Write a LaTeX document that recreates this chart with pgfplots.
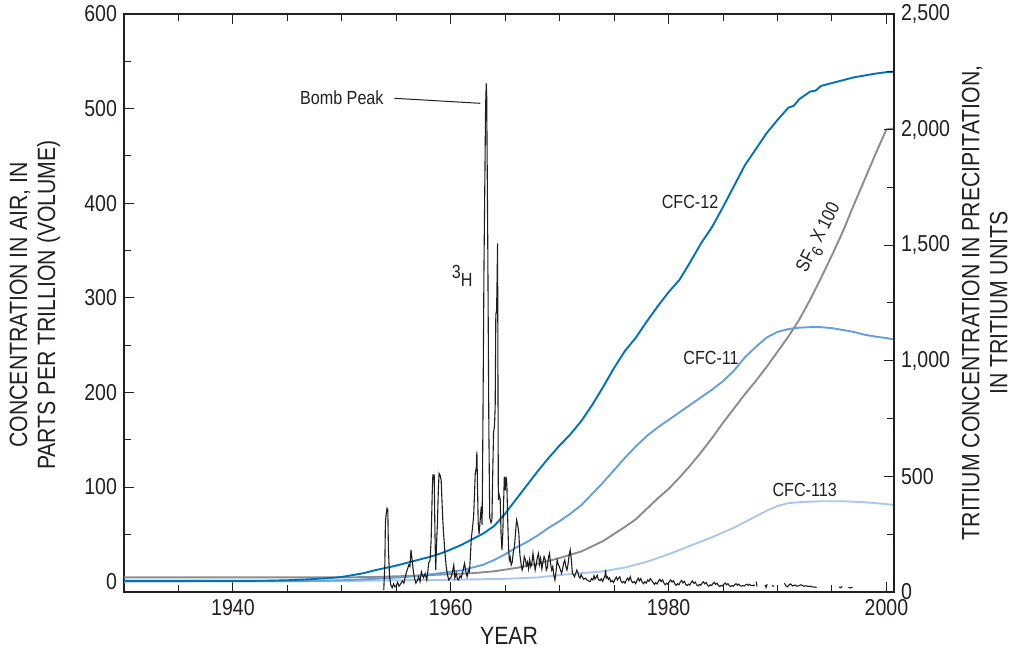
\documentclass[border=0pt]{standalone}
\usepackage{fontspec}
\setmainfont[FakeStretch=0.85]{Liberation Sans}
\usepackage{pgfplots}
\pgfplotsset{compat=1.18}

\definecolor{cfctwelve}{RGB}{0,114,188}
\definecolor{cfceleven}{RGB}{100,160,220}
\definecolor{cfconethree}{RGB}{170,200,238}
\definecolor{sfsix}{RGB}{140,140,140}
\definecolor{tritium}{RGB}{30,30,30}
\definecolor{ink}{RGB}{35,31,32}

\tikzset{annot/.style={font=\fontsize{9.5}{11}\selectfont, text=ink, inner sep=1pt}}

\pgfplotsset{
  common/.style={
    width=385pt, height=289pt, scale only axis,
    xmin=1930, xmax=2000.7,
    tick align=inside,
    major tick length=5pt, minor tick length=3.5pt,
    every tick/.style={line width=0.5pt, ink},
    every minor tick/.style={line width=0.5pt, ink},
    axis line style={line width=0.7pt, ink},
    /pgf/number format/assume math mode=true,
    tick label style={font=\fontsize{11.5}{13}\selectfont, text=ink},
    label style={font=\fontsize{12.5}{14}\selectfont, text=ink, align=center},
  },
}

\begin{document}
\begin{tikzpicture}
\path[use as bounding box] (-62pt,-29.5pt) rectangle (445.5pt,296pt);

% Atmospheric CFC and SF6 concentrations (left scale, pptv)
\begin{axis}[common, name=ax,
  ymin=-10.9, ymax=600,
  xtick={1940,1960,1980,2000},
  minor xtick={1935,1945,1950,1955,1965,1970,1975,1985,1990,1995},
  x tick label style={/pgf/number format/1000 sep={}},
  ytick={0,100,...,600},
  minor ytick={50,150,...,550},
  ytick pos=left,
  xlabel={YEAR},
  xlabel style={at={(axis description cs:0.5,-0.076)}, anchor=center},
  ylabel={CONCENTRATION IN AIR, IN\\PARTS PER TRILLION (VOLUME)},
  ylabel style={at={(axis description cs:-0.1156,0.4965)}, anchor=center},
  every axis plot/.append style={line width=0.95pt},
]
% SF6 x 100
\addplot[sfsix] coordinates {
(1930,4.5) (1945,4.5) (1950,4.5) (1953,5) (1956,6) (1959,7.5) (1962,9) (1964,11)
(1966,14.5) (1968,19) (1970,25) (1972,32) (1974,43) (1976,58) (1977,66) (1978,77)
(1979,88) (1980,98) (1981,110) (1982,123) (1983,137) (1984,152) (1985,168)
(1986,183) (1987,198) (1988,212) (1989,227) (1990,243) (1991,259) (1992,277)
(1993,298) (1994,321) (1995,345) (1996,370) (1997,398) (1998,425) (1999,452)
(2000,478) (2000.7,479)
};
% CFC-113
\addplot[cfconethree] coordinates {
(1930,0) (1950,0.5) (1955,1.5) (1960,2) (1965,3) (1968,4.5) (1970,7) (1972,9)
(1974,11) (1976,15) (1978,21) (1980,29) (1982,38) (1984,47) (1986,57) (1987,63)
(1988,69) (1989,75) (1990,80) (1991,83) (1992,84) (1993,84.5) (1994,85) (1995,85)
(1996,85) (1997,84.5) (1998,84) (1999,83) (2000,82) (2000.7,81)
};
% CFC-11
\addplot[cfceleven] coordinates {
(1930,0.8) (1945,0.8) (1948,1) (1950,1.5) (1953,3) (1956,5) (1959,9) (1961,12)
(1963,18) (1964,23) (1965,29) (1966,36) (1967,42) (1968,49) (1969,57) (1970,64)
(1971,72) (1972,81) (1973,93) (1974,105) (1975,118) (1976,131) (1977,143)
(1978,154) (1979,163) (1980,171) (1981,179) (1982,187) (1983,195) (1984,203)
(1985,212) (1986,223) (1987,237) (1988,248) (1989,258) (1990,264) (1991,267)
(1992,268.5) (1993,269) (1994,269) (1995,268) (1996,266) (1997,264) (1998,261)
(1999,259) (2000,257.5) (2000.7,256)
};
% CFC-12
\addplot[cfctwelve] coordinates {
(1930,0.8) (1940,0.8) (1943,1) (1945,1.5) (1947,2.5) (1949,4) (1950,5) (1951,7)
(1952,9) (1953,12) (1954,14.5) (1955,17) (1956,20) (1957,23) (1958,26)
(1959,29.5) (1960,34) (1961,39) (1962,45) (1963,51) (1964,59) (1965,72)
(1966,87) (1967,102) (1968,117) (1969,131) (1970,144) (1971,156) (1972,170)
(1973,187) (1974,206) (1975,226) (1976,244) (1977,258) (1978,275) (1979,291)
(1980,306) (1981,319) (1982,338) (1983,358) (1984,375) (1985,396) (1986,418)
(1987,440) (1988,457) (1989,474) (1990,488) (1991,501) (1991.5,503) (1992,510)
(1993,518) (1993.5,519) (1994,524) (1995,527) (1996,530) (1997,533) (1998,535)
(1999,537) (2000,538.5) (2000.7,539)
};
\node[annot] at (axis cs:1950.0,511.7) {Bomb Peak};
\draw[line width=0.5pt, ink] (axis cs:1954.82,510.9) -- (axis cs:1962.71,505.6);
\node[annot] at (axis cs:1961.06,323) {\raisebox{0.45em}{3}H};
\node[annot] at (axis cs:1981.97,401.3) {CFC-12};
\node[annot] at (axis cs:1983.9,236.4) {CFC-11};
\node[annot] at (axis cs:1992.5,97.4) {CFC-113};
\node[annot, rotate=63] at (axis cs:1993.9,363.2)
  {SF\raisebox{-0.3em}{\fontsize{8}{9}\selectfont 6} X 100};
\end{axis}

% Tritium in precipitation (right scale, TU)
\begin{axis}[common,
  ymin=0, ymax=2500,
  hide x axis,
  axis y line*=right,
  ytick={0,500,...,2500},
  minor ytick={250,750,...,2250},
  ylabel={TRITIUM CONCENTRATION IN PRECIPITATION,\\IN TRITIUM UNITS},
  ylabel style={at={(axis description cs:1.118,0.5)}, anchor=center},
]
\addplot[tritium, line width=0.55pt, unbounded coords=jump] coordinates {
(1953.85,8) (1953.95,120) (1954.00,300) (1954.08,340) (1954.15,362) (1954.22,355)
(1954.28,182) (1954.38,66) (1954.50,30) (1954.62,18) (1954.75,35) (1954.88,22)
(1955.00,28) (1955.12,42) (1955.25,25) (1955.40,35) (1955.55,48) (1955.70,38)
(1955.85,72) (1956.00,95) (1956.15,117) (1956.25,110) (1956.35,182) (1956.45,140)
(1956.59,81) (1956.70,55) (1956.80,38) (1956.95,52) (1957.05,66) (1957.18,45)
(1957.30,88) (1957.42,70) (1957.50,62) (1957.65,80) (1957.80,52) (1957.90,90)
(1957.97,124) (1958.10,138) (1958.20,225) (1958.30,430) (1958.36,506) (1958.48,506)
(1958.55,250) (1958.62,95) (1958.70,210) (1958.78,300) (1958.86,440) (1958.93,513)
(1959.02,505) (1959.12,484) (1959.25,330) (1959.34,254) (1959.45,182) (1959.58,110)
(1959.72,70) (1959.82,52) (1959.95,60) (1960.05,66) (1960.15,85) (1960.28,117)
(1960.38,60) (1960.50,81) (1960.62,55) (1960.72,52) (1960.85,70) (1960.96,62)
(1961.10,85) (1961.20,110) (1961.27,124) (1961.38,90) (1961.50,66) (1961.62,95)
(1961.72,88) (1961.80,150) (1961.88,225) (1962.00,280) (1962.10,326) (1962.18,420)
(1962.25,513) (1962.35,540) (1962.40,607) (1962.46,450) (1962.52,300) (1962.60,250)
(1962.70,310) (1962.80,369) (1962.88,290) (1962.95,700) (1963.05,1400) (1963.20,2100)
(1963.26,2200) (1963.30,2150) (1963.40,1500) (1963.50,700) (1963.58,320) (1963.70,300)
(1963.78,311) (1963.85,500) (1963.93,688) (1964.02,720) (1964.08,801) (1964.14,1206)
(1964.20,1206) (1964.24,1300) (1964.30,1508) (1964.33,1000) (1964.37,398) (1964.45,420)
(1964.54,400) (1964.62,250) (1964.70,182) (1964.78,255) (1964.85,380) (1964.92,499)
(1965.00,440) (1965.08,499) (1965.15,470) (1965.22,330) (1965.30,200) (1965.38,138)
(1965.46,150) (1965.55,117) (1965.65,130) (1965.75,175) (1965.85,196) (1965.95,260)
(1966.05,311) (1966.15,290) (1966.25,255) (1966.35,160) (1966.45,125) (1966.55,95)
(1966.65,110) (1966.75,153) (1966.85,140) (1966.95,115) (1967.05,130) (1967.15,100)
(1967.25,140) (1967.35,110) (1967.45,125) (1967.55,167) (1967.65,130) (1967.75,95)
(1967.85,120) (1967.95,150) (1968.06,167) (1968.15,120) (1968.25,145) (1968.37,100)
(1968.47,130) (1968.57,153) (1968.67,140) (1968.77,95) (1968.87,105) (1968.97,150)
(1969.07,167) (1969.17,120) (1969.27,95) (1969.37,110) (1969.47,70) (1969.57,52)
(1969.67,90) (1969.77,138) (1969.87,120) (1969.97,110) (1970.07,95) (1970.17,81)
(1970.27,100) (1970.37,125) (1970.47,138) (1970.57,110) (1970.67,95) (1970.77,120)
(1970.87,160) (1970.97,182) (1971.07,140) (1971.17,81) (1971.27,75) (1971.37,66)
(1971.47,80) (1971.57,95) (1971.67,85) (1971.77,66) (1971.87,60) (1971.97,75)
(1972.07,66) (1972.20,55) (1972.35,60) (1972.50,52) (1972.65,48) (1972.80,45)
(1972.92,58) (1973.05,52) (1973.15,70) (1973.25,56) (1973.35,64) (1973.45,72)
(1973.55,54) (1973.70,49) (1973.82,57) (1973.95,46) (1974.08,62) (1974.16,70)
(1974.22,96) (1974.28,60) (1974.38,66) (1974.48,54) (1974.58,61) (1974.70,44)
(1974.82,50) (1974.95,41) (1975.08,55) (1975.20,64) (1975.30,52) (1975.42,60)
(1975.52,66) (1975.62,48) (1975.75,40) (1975.88,46) (1976.00,38) (1976.12,52)
(1976.25,60) (1976.35,50) (1976.48,66) (1976.60,47) (1976.72,40) (1976.85,45)
(1976.98,36) (1977.10,50) (1977.22,60) (1977.32,48) (1977.45,58) (1977.58,42)
(1977.70,36) (1977.82,44) (1977.95,38) (1978.08,52) (1978.20,46) (1978.32,58)
(1978.45,50) (1978.58,41) (1978.70,33) (1978.82,40) (1978.95,35) (1979.08,48)
(1979.20,55) (1979.32,45) (1979.45,52) (1979.58,38) (1979.70,31) (1979.82,38)
(1979.95,33) (1980.08,46) (1980.20,52) (1980.32,43) (1980.45,49) (1980.58,35)
(1980.70,29) (1980.82,36) (1980.95,31) (1981.08,44) (1981.20,50) (1981.32,39)
(1981.45,46) (1981.58,33) (1981.70,28) (1981.82,34) (1981.95,30) (1982.08,42)
(1982.20,48) (1982.32,37) (1982.45,43) (1982.58,31) (1982.70,26) (1982.82,33)
(1982.95,29) (1983.08,39) (1983.20,44) (1983.32,35) (1983.45,41) (1983.58,29)
(1983.70,25) (1983.82,31) (1983.95,28) (1984.08,37) (1984.20,42) (1984.32,33)
(1984.45,38) (1984.58,28) (1984.70,24) (1984.82,29) (1984.95,26) (1985.08,34)
(1985.20,39) (1985.32,31) (1985.45,36) (1985.58,27) (1985.70,24) (1985.82,28)
(1985.95,25) (1986.08,32) (1986.20,36) (1986.32,29) (1986.45,34) (1986.58,27)
(1986.70,25) (1986.82,28) (1986.95,26) (1987.08,31) (1987.20,34) (1987.32,29)
(1987.45,33) (1987.58,28) (1987.70,27) (1987.82,30) (1987.92,28)
(1988.00,nan) (1988.05,45) (1988.12,24) (1988.20,nan) (1988.85,30)
(1988.95,20) (1989.05,34) (1989.15,nan) (1989.50,28) (1989.70,24) (1989.85,nan)
(1990.65,38) (1990.75,28) (1990.90,22) (1991.05,30) (1991.20,35) (1991.40,26)
(1991.60,30) (1991.80,25) (1992.00,28) (1992.20,31) (1992.40,25) (1992.60,27)
(1992.80,24) (1993.00,25) (1993.20,22) (1993.45,21) (1993.60,20) (1993.70,nan)
(1995.65,22) (1995.80,18) (1995.95,24) (1996.10,nan) (1996.50,20) (1996.70,18)
(1996.90,19)
};
\end{axis}
\end{tikzpicture}
\end{document}
